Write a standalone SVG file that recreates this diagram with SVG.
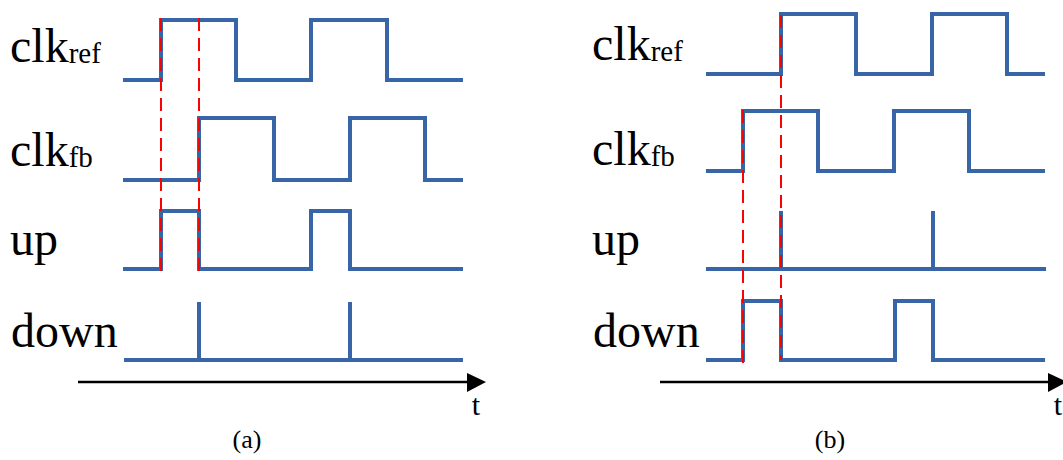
<svg xmlns="http://www.w3.org/2000/svg" width="1063" height="460" viewBox="0 0 1063 460">
  <style>
    .wave { fill: none; stroke: #3864A8; stroke-width: 4; stroke-linejoin: miter; stroke-linecap: butt; }
    .mark { fill: none; stroke: #FF0000; stroke-width: 2; stroke-dasharray: 13 7; }
    .axis { fill: none; stroke: #000000; stroke-width: 2.5; }
    .head { fill: #000000; }
    .lbl { font-size: 48px; fill: #000000; }
    .sub { font-size: 29px; }
    .tm { font-size: 30px; fill: #000000; text-anchor: middle; }
    .cap { font-size: 26px; fill: #000000; text-anchor: middle; }
  </style>

  <!-- Panel (a): reference clock leads feedback clock -->
  <g id="panel-a" font-family="'Liberation Serif', 'Times New Roman', serif">
    <g id="a-labels">
      <text class="lbl" x="10" y="62">clk<tspan class="sub" dy="1">ref</tspan></text>
      <text class="lbl" x="10" y="166">clk<tspan class="sub" dy="1">fb</tspan></text>
      <text class="lbl" x="10" y="255">up</text>
      <text class="lbl" x="11" y="347">down</text>
    </g>
    <g id="a-clkref"><path class="wave" d="M123,80 H161 V20 H236 V80 H311 V20 H387 V80 H463"/></g>
    <g id="a-clkfb"><path class="wave" d="M123,180 H199 V118 H274 V180 H350 V118 H425 V180 H463"/></g>
    <g id="a-up"><path class="wave" d="M123,269 H161 V211 H199 V269 H311 V211 H350 V269 H463"/></g>
    <g id="a-down"><path class="wave" d="M124,360 H463 M199,302 V360 M350,302 V360"/></g>
    <g id="a-edges"><path class="mark" d="M161,18 V275 M199,18 V275"/></g>
    <g id="a-time">
      <line class="axis" x1="78" y1="382" x2="470" y2="382"/>
      <polygon class="head" points="467,373 486,382 467,392"/>
      <text class="tm" x="476" y="415">t</text>
    </g>
    <text class="cap" x="247" y="448">(a)</text>
  </g>

  <!-- Panel (b): feedback clock leads reference clock -->
  <g id="panel-b" font-family="'Liberation Serif', 'Times New Roman', serif">
    <g id="b-labels">
      <text class="lbl" x="592" y="60">clk<tspan class="sub" dy="1">ref</tspan></text>
      <text class="lbl" x="592" y="165">clk<tspan class="sub" dy="1">fb</tspan></text>
      <text class="lbl" x="592" y="255">up</text>
      <text class="lbl" x="593" y="347">down</text>
    </g>
    <g id="b-clkref"><path class="wave" d="M706,74 H781 V14 H856 V74 H932 V14 H1007 V74 H1045"/></g>
    <g id="b-clkfb"><path class="wave" d="M706,171 H743 V111 H818 V171 H894 V111 H969 V171 H1045"/></g>
    <g id="b-up"><path class="wave" d="M706,269 H1046 M781,211 V269 M933,211 V269"/></g>
    <g id="b-down"><path class="wave" d="M706,360 H743 V301 H781 V360 H895 V301 H933 V360 H1045"/></g>
    <g id="b-edges"><path class="mark" d="M743,110 V365 M781,15 V360"/></g>
    <g id="b-time">
      <line class="axis" x1="660" y1="382" x2="1052" y2="382"/>
      <polygon class="head" points="1048,373 1067,382 1048,392"/>
      <text class="tm" x="1058" y="415">t</text>
    </g>
    <text class="cap" x="830" y="448">(b)</text>
  </g>
</svg>
